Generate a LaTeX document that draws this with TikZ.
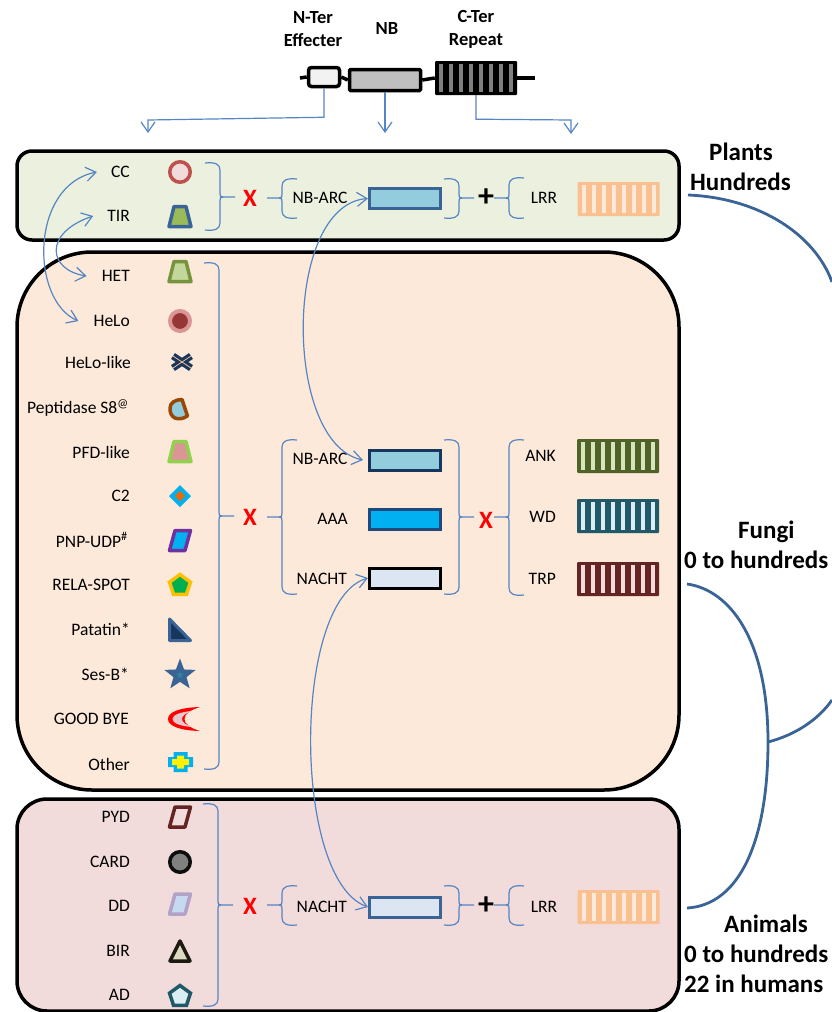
\documentclass[tikz,border=0pt]{standalone}
\usepackage{fontspec}
\setmainfont{Carlito}
\usetikzlibrary{arrows.meta,shapes.geometric}

\definecolor{linkblue}{HTML}{5585C2}
\definecolor{treeblue}{HTML}{3A6496}
\definecolor{navyblue}{HTML}{1F497D}
\definecolor{darknavy}{HTML}{17365D}
\definecolor{skyblue}{HTML}{00B0F0}
\definecolor{aquablue}{HTML}{93CDDD}
\definecolor{paleblue}{HTML}{DCE6F2}
\definecolor{plantsbg}{HTML}{EBF1DE}
\definecolor{fungibg}{HTML}{FDE9D9}
\definecolor{animalsbg}{HTML}{F2DCDB}
\definecolor{lrrorange}{HTML}{FAC090}
\definecolor{oliveleaf}{HTML}{9BBB59}
\definecolor{olivepale}{HTML}{C3D69B}
\definecolor{olivedark}{HTML}{77933C}
\definecolor{oliveank}{HTML}{4F6228}
\definecolor{olivelight}{HTML}{D7E4BC}
\definecolor{tealdark}{HTML}{215968}
\definecolor{tealpale}{HTML}{DBEEF4}
\definecolor{tealmid}{HTML}{31859C}
\definecolor{maroon}{HTML}{632423}
\definecolor{rosered}{HTML}{C0504D}
\definecolor{rosedark}{HTML}{953735}
\definecolor{rosepale}{HTML}{D99694}
\definecolor{rustbrown}{HTML}{984807}
\definecolor{limegreen}{HTML}{92D050}
\definecolor{burnorange}{HTML}{E36C09}
\definecolor{purple}{HTML}{7030A0}
\definecolor{amber}{HTML}{FFC000}
\definecolor{leafgreen}{HTML}{00B050}
\definecolor{lilac}{HTML}{B3A2C7}
\definecolor{iceblue}{HTML}{C6D9F1}
\definecolor{nearblack}{HTML}{1D1B10}
\definecolor{sand}{HTML}{DDD9C3}
\definecolor{moonpink}{HTML}{E6C8CC}

\tikzset{
	panel/.style={draw=black, line width=3.5pt, minimum width=662pt, inner sep=0pt},
	namelabel/.style={anchor=east, inner sep=0pt, font=\fontsize{17.5}{20}\selectfont},
	midlabel/.style={inner sep=0pt, font=\fontsize{17.5}{20}\selectfont},
	headlabel/.style={align=center, inner sep=0pt, font=\bfseries\fontsize{18.5}{23}\selectfont},
	kingdom/.style={align=left, anchor=west, inner sep=0pt, font=\bfseries\fontsize{25}{30}\selectfont},
	crosssign/.style={red, inner sep=0pt, font=\bfseries\fontsize{25}{25}\selectfont},
	plussign/.style={black, inner sep=0pt, font=\bfseries\fontsize{32}{32}\selectfont},
	domainbox/.style={rectangle, line width=3pt, minimum width=71pt, minimum height=20pt, inner sep=0pt},
	repeatbar/.style={rectangle, rounded corners=1pt, minimum width=82pt, minimum height=34pt, inner sep=0pt},
	bracket/.style={linkblue, line width=1.2pt},
	link/.style={linkblue, line width=1.2pt, -{Straight Barb[length=10pt,width=14pt]}},
	twolink/.style={linkblue, line width=1.2pt, {Straight Barb[length=10pt,width=14pt]}-{Straight Barb[length=10pt,width=14pt]}},
	treeline/.style={treeblue, line width=2.8pt},
	geneline/.style={black, line width=3.5pt},
	iconcircle/.style={circle, minimum size=20.5pt, inner sep=0pt, line width=3.5pt},
	iconpenta/.style={regular polygon, regular polygon sides=5, minimum size=22pt, inner sep=0pt, line width=3.5pt},
	icon/.style={line width=3.5pt, line join=round},
	trapicon/.pic={\path[pic actions] (-11,10) -- (-6,-10) -- (6,-10) -- (11,10) -- cycle;},
	paraicon/.pic={\path[pic actions] (-10.5,10) -- (-5,-10) -- (10.5,-10) -- (5,10) -- cycle;},
	triicon/.pic={\path[pic actions] (-10,10) -- (0,-10) -- (10,10) -- cycle;},
	plusicon/.pic={
		\fill[skyblue] (-7,-10) -- (7,-10) -- (7,-5) -- (12.5,-5) -- (12.5,5) -- (7,5) -- (7,10) -- (-7,10) -- (-7,5) -- (-12.5,5) -- (-12.5,-5) -- (-7,-5) -- cycle;
		\fill[yellow] (-3.5,-6.5) -- (3.5,-6.5) -- (3.5,-3) -- (8.5,-3) -- (8.5,3) -- (3.5,3) -- (3.5,6.5) -- (-3.5,6.5) -- (-3.5,3) -- (-8.5,3) -- (-8.5,-3) -- (-3.5,-3) -- cycle;
	}
}

% name, x, y, block colour, stripe colour
\newcommand{\repeatblock}[5]{
	\node[repeatbar, fill=#4] (#1) at (#2,#3) {};
	\foreach \n in {-35,-25,...,35}
		\fill[#5] ([xshift=\n pt-2pt, yshift=-3pt]#1.north) rectangle ([xshift=\n pt+2pt, yshift=3pt]#1.south);
}
% x, top, bottom, middle
\newcommand{\branchright}[4]{
	\draw[bracket] (#1,#2) .. controls +(10,-1) and +(0,-6) .. (#1+15,#2+7) -- (#1+15,#4-4) .. controls +(0,3) and +(-3,0) .. (#1+18,#4) -- (#1+30,#4);
	\draw[bracket] (#1+18,#4) .. controls +(-3,0) and +(0,-3) .. (#1+15,#4+4) -- (#1+15,#3-7) .. controls +(0,6) and +(10,1) .. (#1,#3);
}
\newcommand{\branchleft}[4]{
	\draw[bracket] (#1,#2) .. controls +(-10,-1) and +(0,-6) .. (#1-15,#2+7) -- (#1-15,#4-4) .. controls +(0,3) and +(3,0) .. (#1-18,#4) -- (#1-30,#4);
	\draw[bracket] (#1-18,#4) .. controls +(3,0) and +(0,-3) .. (#1-15,#4+4) -- (#1-15,#3-7) .. controls +(0,6) and +(-10,1) .. (#1,#3);
}

\begin{document}
\begin{tikzpicture}[x=1pt, y=-1pt]
	\useasboundingbox (0,0) rectangle (832,1012);

	% gene at the top
	\node[headlabel] (effecterlabel) at (313,29) {N-Ter\\Effecter};
	\node[headlabel] (nblabel) at (387,29) {NB};
	\node[headlabel] (repeatlabel) at (476,29) {C-Ter\\Repeat};
	\node[draw=black, fill=black!5, line width=3.5pt, rounded corners=3pt, minimum width=31pt, minimum height=19pt, inner sep=0pt] (effecter) at (324,77) {};
	\node[draw=black, fill=black!25, line width=3.5pt, rounded corners=1pt, minimum width=71pt, minimum height=21pt, inner sep=0pt] (nbgene) at (385,80) {};
	\repeatblock{repeatgene}{476}{78}{black}{black!50}
	\coordinate (genestart) at (300,78);
	\coordinate (geneend) at (535,78);
	\draw[geneline] (genestart) -- (effecter.west);
	\draw[geneline] (effecter.east) -- (nbgene.west);
	\draw[geneline] (nbgene.east) -- (repeatgene.west);
	\draw[geneline] (repeatgene.east) -- (geneend);
	\coordinate (effecterend) at (148,133);
	\coordinate (nbend) at (385,133);
	\coordinate (repeatend) at (571,134);
	\draw[link] (effecter.south) -- ++(0,29) -- (148,120) -- (effecterend);
	\draw[link] (nbgene.south) -- (nbend);
	\draw[link] (repeatgene.south) -- ++(0,24) -- (571,120) -- (repeatend);

	% panels
	\node[panel, fill=plantsbg, rounded corners=15pt, minimum height=89pt] (plants) at (348,195.5) {};
	\node[panel, fill=fungibg, rounded corners=75pt, minimum height=538pt] (fungi) at (348,521) {};
	\node[panel, fill=animalsbg, rounded corners=30pt, minimum height=212pt] (animals) at (348,905) {};

	% plants
	\node[namelabel] (cc) at (130,172) {CC};
	\node[namelabel] (tir) at (130,216) {TIR};
	\node[iconcircle, draw=rosered, fill=animalsbg] (ccicon) at (180,172) {};
	\pic[icon, draw=treeblue, fill=oliveleaf] at (180,216.5) {trapicon};
	\branchright{205}{163}{230}{197}
	\node[crosssign] (plantsx) at (250,198) {X};
	\branchleft{297}{179}{218}{198}
	\node[midlabel] (plantsnblabel) at (320,198) {NB-ARC};
	\node[domainbox, draw=treeblue, fill=aquablue] (plantsnb) at (405,198.5) {};
	\branchright{444}{179}{218}{198}
	\node[plussign] (plantsplus) at (486,198) {+};
	\branchleft{524}{178}{218}{198}
	\node[midlabel] (plantslrrlabel) at (544,198) {LRR};
	\repeatblock{plantslrr}{618.5}{199}{lrrorange}{fungibg}

	% fungi
	\node[namelabel] (het) at (130,276) {HET};
	\node[namelabel] (helo) at (130,321) {HeLo};
	\node[namelabel] (helolike) at (131,362) {HeLo-like};
	\node[namelabel] (peptidase) at (129,408) {Peptidase S8\textsuperscript{@}};
	\node[namelabel] (pfd) at (130,452) {PFD-like};
	\node[namelabel] (ctwo) at (130,496) {C2};
	\node[namelabel] (pnp) at (128,540) {PNP-UDP\textsuperscript{\#}};
	\node[namelabel] (rela) at (130,585) {RELA-SPOT};
	\node[namelabel] (patatin) at (130,629) {Patatin*};
	\node[namelabel] (sesb) at (129,674) {Ses-B*};
	\node[namelabel] (goodbye) at (129,719) {GOOD BYE};
	\node[namelabel] (other) at (130,764) {Other};
	\pic[icon, draw=olivedark, fill=olivepale] at (180,271.5) {trapicon};
	\node[circle, draw=rosepale, fill=rosedark, line width=4pt, minimum size=20pt, inner sep=0pt] (heloicon) at (180,321) {};
	\draw[darknavy, line width=7pt] (173,356) -- (191,368);
	\draw[darknavy, line width=7pt] (173,368) -- (191,356);
	\draw[lrrorange, line width=0.8pt] (173,356) -- (191,368);
	\draw[lrrorange, line width=0.8pt] (173,368) -- (191,356);
	\path[icon, draw=rustbrown, fill=aquablue] (182,399.5) -- (187.5,416) .. controls (178,422) and (169.5,418) .. (170,408) .. controls (170,403) and (175,399.5) .. cycle;
	\pic[icon, draw=limegreen, fill=rosepale] at (180,451.5) {trapicon};
	\node[diamond, draw=skyblue, fill=burnorange, line width=4pt, minimum width=18pt, minimum height=18pt, inner sep=0pt] (ctwoicon) at (180,496) {};
	\pic[icon, draw=purple, fill=skyblue] at (180,540.5) {paraicon};
	\node[iconpenta, draw=amber, fill=leafgreen] (relaicon) at (180,585.5) {};
	\path[line width=3pt, line join=round, draw=treeblue, fill=darknavy] (169.5,619) -- (169.5,640.5) -- (190.5,640.5) -- cycle;
	\node[star, star points=5, star point ratio=2.4, fill=treeblue, minimum size=33pt, inner sep=0pt] (sesbicon) at (180,675) {};
	\node[star, star points=5, star point ratio=2.4, fill=tealmid, minimum size=8pt, inner sep=0pt] (sesbcore) at (180,675) {};
	\fill[red] (200,707) .. controls (180,707.5) and (168,712) .. (168,719) .. controls (168,726) and (180,730.5) .. (200,731) .. controls (190,728) and (184.5,724) .. (184.5,719) .. controls (184.5,714) and (190,710) .. cycle;
	\fill[moonpink] (192,711) .. controls (180,712) and (172.5,715) .. (172.5,719) .. controls (172.5,723) and (180,726) .. (192,727) .. controls (185,724.5) and (182,722) .. (182,719) .. controls (182,716) and (185,713.5) .. cycle;
	\pic at (180.5,762) {plusicon};
	\branchright{204}{263}{769}{516}
	\node[crosssign] (fungix) at (250,517) {X};
	\branchleft{297}{440}{594}{517}
	\node[midlabel] (funginblabel) at (320,459) {NB-ARC};
	\node[midlabel, anchor=east] (aaalabel) at (348,519) {AAA};
	\node[midlabel, anchor=east] (nachtlabel) at (347,579) {NACHT};
	\node[domainbox, draw=darknavy, fill=aquablue] (funginb) at (405,460) {};
	\node[domainbox, draw=navyblue, fill=skyblue] (aaa) at (405,519) {};
	\node[domainbox, draw=black, fill=paleblue] (nacht) at (405,578) {};
	\branchright{444}{440}{594}{517}
	\node[crosssign] (fungicross) at (486,520) {X};
	\branchleft{524}{440}{595}{517}
	\node[midlabel, anchor=east] (anklabel) at (556,456) {ANK};
	\node[midlabel, anchor=east] (wdlabel) at (556,517) {WD};
	\node[midlabel, anchor=east] (trplabel) at (556,579) {TRP};
	\repeatblock{ank}{618}{456}{oliveank}{olivelight}
	\repeatblock{wd}{618}{516}{tealdark}{tealpale}
	\repeatblock{trp}{618}{579}{maroon}{animalsbg}

	% animals
	\node[namelabel] (pyd) at (130,817) {PYD};
	\node[namelabel] (card) at (130,862) {CARD};
	\node[namelabel] (dd) at (130,906) {DD};
	\node[namelabel] (bir) at (130,951) {BIR};
	\node[namelabel] (ad) at (130,995) {AD};
	\pic[icon, draw=maroon, fill=animalsbg] at (180,817) {paraicon};
	\node[iconcircle, draw=black!95, fill=black!50] (cardicon) at (180,862) {};
	\pic[icon, draw=lilac, fill=iceblue] at (180,904) {paraicon};
	\pic[icon, draw=nearblack, fill=sand] at (180,951) {triicon};
	\node[iconpenta, draw=tealdark, fill=tealpale] (adicon) at (180,996.5) {};
	\branchright{203}{804}{1006}{905}
	\node[crosssign] (animalsx) at (250,906) {X};
	\branchleft{297}{886}{925}{905}
	\node[midlabel, anchor=east] (animalsnachtlabel) at (347,907) {NACHT};
	\node[domainbox, draw=treeblue, fill=paleblue] (animalsnacht) at (405,907) {};
	\branchright{444}{886}{925}{905}
	\node[plussign] (animalsplus) at (486,906) {+};
	\branchleft{524}{886}{925}{905}
	\node[midlabel] (animalslrrlabel) at (544,907) {LRR};
	\repeatblock{animalslrr}{618.5}{907}{lrrorange}{fungibg}

	% shared domains
	\draw[twolink] ([xshift=-14pt]cc.west) .. controls (30,185) and (30,300) .. ([xshift=-15pt]helo.west);
	\draw[twolink] ([xshift=-14pt]tir.west) .. controls (43,233) and (48,270) .. ([xshift=-15pt]het.west);
	\draw[twolink] (plantsnb.west) .. controls (283,205) and (283,443) .. ([xshift=-5pt]funginb.west);
	\draw[twolink] (nacht.west) .. controls (292,600) and (292,880) .. (animalsnacht.west);

	% tree on the right
	\node[kingdom] (plantslabel) at (690,166.5) {\hspace*{19pt}Plants\\Hundreds};
	\node[kingdom] (fungilabel) at (684,545) {\hspace*{54pt}Fungi\\0 to hundreds};
	\node[kingdom] (animalslabel) at (684,954) {\hspace*{40pt}Animals\\0 to hundreds\\22 in humans};
	\coordinate (plantsleaf) at (688,195);
	\coordinate (fungileaf) at (687,584);
	\coordinate (animalsleaf) at (687,908);
	\coordinate (joint) at (768,742);
	\coordinate (rootup) at (832,282);
	\coordinate (rootdown) at (832,700);
	\draw[treeline] (plantsleaf) .. controls (760,198) and (815,235) .. (rootup);
	\draw[treeline] (fungileaf) .. controls (730,590) and (768,640) .. (joint) .. controls (768,840) and (740,905) .. (animalsleaf);
	\draw[treeline] (joint) .. controls (795,735) and (818,720) .. (rootdown);
\end{tikzpicture}
\end{document}
